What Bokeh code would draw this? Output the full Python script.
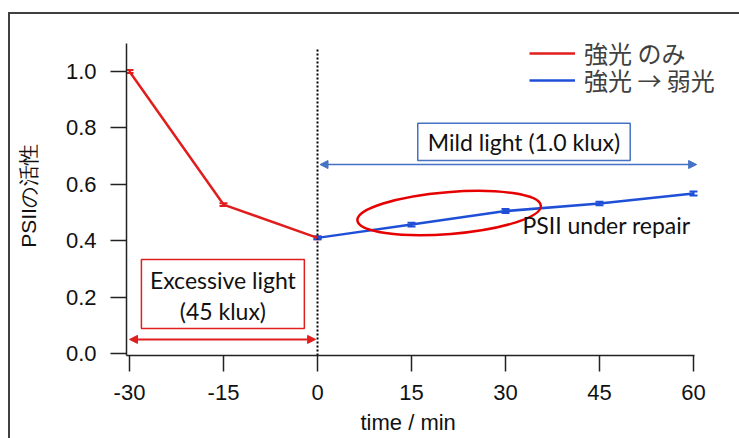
from bokeh.plotting import figure
from bokeh.models import (Range1d, FixedTicker, Legend, LegendItem, Arrow, NormalHead,
                          BoxAnnotation, Label, Whisker, ColumnDataSource, PrintfTickFormatter,
                          Title)
from bokeh.embed import file_html
from bokeh.resources import INLINE

# ---- data ----
red_t = [-30, -15, 0]
red_v = [1.0, 0.528, 0.41]
red_err = [0.005, 0.005, 0.005]
blue_t = [0, 15, 30, 45, 60]
blue_v = [0.41, 0.457, 0.505, 0.532, 0.567]
blue_err = [0.005, 0.007, 0.007, 0.006, 0.007]
x_ticks = [-30, -15, 0, 15, 30, 45, 60]
y_ticks = [0.0, 0.2, 0.4, 0.6, 0.8, 1.0]
legend_labels = ["強光 のみ", "強光 → 弱光"]
x_title = "time / min"
y_title = "PSIIの活性"

RED = "#e01e1e"
BLUE = "#1f4fd6"
BOXBLUE = "#4472c4"
FONT = "Liberation Sans"

p = figure(width=731, height=426, output_backend="svg", toolbar_location=None,
           x_range=Range1d(-30.48, 67.66), y_range=Range1d(-0.0071, 1.124),
           min_border_left=116, min_border_right=0, min_border_top=22, min_border_bottom=85)
p.styles = {"margin-left": "8px", "margin-top": "12px",
            "border-left": "2px solid #404040", "border-top": "2px solid #404040"}
p.outline_line_color = None
p.grid.visible = False
p.background_fill_color = "white"
p.border_fill_color = "white"

for ax in (p.xaxis[0], p.yaxis[0]):
    ax.major_tick_out = 16
    ax.major_tick_in = 0
    ax.minor_tick_line_color = None
    ax.axis_line_color = "#222222"
    ax.axis_line_width = 1.5
    ax.major_tick_line_color = "#222222"
    ax.major_tick_line_width = 1.5
    ax.major_label_text_font = FONT
    ax.major_label_text_font_size = "22px"
    ax.major_label_text_color = "#111111"

p.xaxis.bounds = (-30.48, 60.1)
p.yaxis.bounds = (-0.0071, 1.1)
p.xaxis.ticker = FixedTicker(ticks=x_ticks)
p.yaxis.ticker = FixedTicker(ticks=y_ticks)
p.xaxis.formatter = PrintfTickFormatter(format="%d")
p.yaxis.formatter = PrintfTickFormatter(format="%.1f")
p.xaxis.major_label_standoff = 13
p.yaxis.major_label_standoff = 14

# axis titles
p.yaxis.axis_label = y_title
p.yaxis.axis_label_text_font = FONT
p.yaxis.axis_label_text_font_size = "21px"
p.yaxis.axis_label_text_font_style = "normal"
p.yaxis.axis_label_text_color = "#111111"
p.yaxis.axis_label_standoff = 23
p.add_layout(Title(text=x_title, align="left", offset=234, standoff=11,
                   text_font=FONT, text_font_size="22px", text_font_style="normal",
                   text_color="#111111"), "below")

# dotted vertical line at t = 0
p.segment(x0=[0], y0=[-0.007], x1=[0], y1=[1.085], line_color="#000000",
          line_width=2, line_dash="2 2")

# data lines
r_red = p.line(red_t, red_v, line_color=RED, line_width=2.5)
r_blue = p.line(blue_t, blue_v, line_color=BLUE, line_width=2.5)

src_r = ColumnDataSource(dict(x=red_t, lo=[v - e for v, e in zip(red_v, red_err)],
                              hi=[v + e for v, e in zip(red_v, red_err)]))
src_b = ColumnDataSource(dict(x=blue_t, lo=[v - e for v, e in zip(blue_v, blue_err)],
                              hi=[v + e for v, e in zip(blue_v, blue_err)]))
for src, col in ((src_r, RED), (src_b, BLUE)):
    w = Whisker(source=src, base="x", lower="lo", upper="hi", line_color=col, line_width=2)
    w.upper_head.size = 8
    w.lower_head.size = 8
    w.upper_head.line_color = col
    w.lower_head.line_color = col
    w.upper_head.line_width = 2
    w.lower_head.line_width = 2
    p.add_layout(w)

# arrows
p.add_layout(Arrow(x_start=0.4, y_start=0.67, x_end=60.5, y_end=0.67,
                   line_color=BOXBLUE, line_width=1.5,
                   start=NormalHead(size=8, fill_color=BOXBLUE, line_color=BOXBLUE),
                   end=NormalHead(size=8, fill_color=BOXBLUE, line_color=BOXBLUE)))
p.add_layout(Arrow(x_start=-30, y_start=0.05, x_end=-0.3, y_end=0.05,
                   line_color=RED, line_width=2,
                   start=NormalHead(size=8, fill_color=RED, line_color=RED),
                   end=NormalHead(size=8, fill_color=RED, line_color=RED)))

# annotation boxes
p.add_layout(BoxAnnotation(left=16.0, right=49.9, bottom=0.684, top=0.816,
                           fill_color="white", fill_alpha=1.0,
                           line_color=BOXBLUE, line_alpha=1.0, line_width=1.5))
p.add_layout(Label(x=32.95, y=0.75, text="Mild light (1.0 klux)", text_align="center",
                   text_baseline="middle", text_font="Lato", text_font_size="23px",
                   text_color="#111111"))
p.add_layout(BoxAnnotation(left=-28.1, right=-2.1, bottom=0.089, top=0.333,
                           fill_color="white", fill_alpha=1.0,
                           line_color=RED, line_alpha=1.0, line_width=1.5))
p.add_layout(Label(x=-15.1, y=0.262, text="Excessive light", text_align="center",
                   text_baseline="middle", text_font="Lato", text_font_size="23px",
                   text_color="#111111"))
p.add_layout(Label(x=-15.1, y=0.152, text="(45 klux)", text_align="center",
                   text_baseline="middle", text_font="Lato", text_font_size="23px",
                   text_color="#111111"))

# ellipse around the repair region
p.ellipse(x=[21.0], y=[0.498], width=[184], height=[42], width_units="screen",
          height_units="screen", angle=0.08, fill_color=None, line_color="#e60000",
          line_width=2.5)
p.add_layout(Label(x=32.7, y=0.455, text="PSII under repair", text_align="left",
                   text_baseline="middle", text_font="Lato", text_font_size="23px",
                   text_color="#111111"))

common = dict(orientation="vertical", border_line_color=None, background_fill_alpha=0.0,
              label_text_font="Noto Sans CJK JP", label_text_font_size="24px",
              label_text_color="#404040", glyph_width=46, glyph_height=20,
              label_standoff=9, padding=0, margin=0, spacing=0, label_height=20)
p.add_layout(Legend(items=[LegendItem(label=legend_labels[0], renderers=[r_red])],
                    location=(403, 285), **common))
p.add_layout(Legend(items=[LegendItem(label=legend_labels[1], renderers=[r_blue])],
                    location=(403, 258), **common))

open("out.html", "w").write(file_html(p, INLINE))
